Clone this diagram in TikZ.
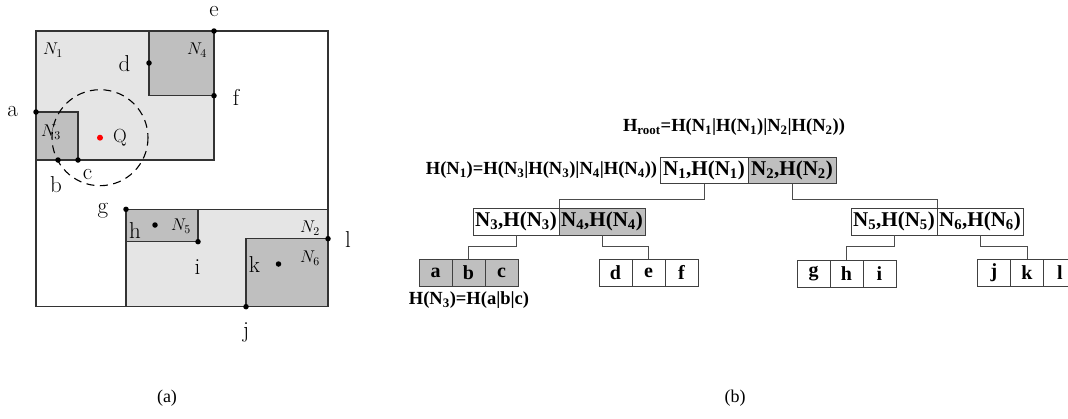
\RequirePackage{fix-cm}
\documentclass[tikz,border=0pt]{standalone}
\usepackage{fontspec}
\newfontfamily\tnr{Liberation Serif}
\begin{document}
\begin{tikzpicture}[x=1pt,y=-1pt,
 region/.style={draw=black!80, line width=1.2pt},
 light/.style={region, fill=black!10},
 dark/.style={region, fill=black!25},
 dot/.style={circle, fill=black, inner sep=0pt, minimum size=5.5pt},
 qdot/.style={circle, fill=red, inner sep=0pt, minimum size=6pt},
 lbl/.style={font=\fontsize{23}{27}\selectfont, inner sep=0pt},
 qlbl/.style={font=\fontsize{19}{22}\selectfont, inner sep=0pt},
 nlbl/.style={font=\fontsize{17}{20}\selectfont, inner sep=0pt},
 box/.style={draw=black!75, line width=0.9pt, minimum height=26pt, inner sep=0pt, font=\tnr\bfseries\fontsize{21}{24}\selectfont},
 cell/.style={draw=black!75, line width=0.9pt, minimum width=33pt, minimum height=27pt, inner sep=0pt, font=\tnr\bfseries\fontsize{20}{24}\selectfont},
 shaded/.style={fill=black!25},
 conn/.style={draw=black!70, line width=0.9pt},
 formula/.style={font=\tnr\bfseries\fontsize{18.5}{22}\selectfont, inner sep=0pt},
 caption/.style={font=\tnr\fontsize{18}{22}\selectfont, inner sep=0pt}]
\useasboundingbox (0,0) rectangle (1068,418);
\clip (0,0) rectangle (1068,418);

% ---------------- (a) spatial layout ----------------
\draw[region] (36,31) rectangle (328,306.7);
\draw[light] (36,31) rectangle (214,160);
\draw[dark] (149,31) rectangle (214,95.7);
\draw[dark] (36,112) rectangle (78,160);
\draw[light] (126,209.3) rectangle (328,306.7);
\draw[dark] (126,209.3) rectangle (198,241.7);
\draw[dark] (246,238.7) rectangle (328,306.7);
\draw[region] (36,31) rectangle (328,306.7);

\draw[line width=1.1pt, dash pattern=on 8pt off 5.5pt] (100,137.7) circle[radius=48];

\node[nlbl] (N1) at (53,50) {$N_1$};
\node[nlbl] (N4) at (197,50) {$N_4$};
\node[nlbl] (N3) at (51,132) {$N_3$};
\node[nlbl] (N5) at (181,226) {$N_5$};
\node[nlbl] (N2) at (310,228) {$N_2$};
\node[nlbl] (N6) at (310,258) {$N_6$};

\node[dot] (pa) at (36,112) {};
\node[dot] (pb) at (58,160) {};
\node[dot] (pc) at (78,160) {};
\node[dot] (pd) at (149,63) {};
\node[dot] (pe) at (214,31) {};
\node[dot] (pf) at (214,95.7) {};
\node[dot] (pg) at (126,209.3) {};
\node[dot] (pi) at (198,241.7) {};
\node[dot] (pl) at (328,238.7) {};
\node[dot] (pj) at (246,306.7) {};
\node[dot] (ph) at (155,225) {};
\node[dot] (pk) at (278.5,264) {};
\node[qdot] (pq) at (100,137.7) {};

\node[lbl] (ta) at (12.7,112) {a};
\node[lbl] (tb) at (56,185) {b};
\node[lbl] (tc) at (87.5,175) {c};
\node[lbl] (td) at (124.5,64) {d};
\node[lbl] (te) at (214,11.5) {e};
\node[lbl] (tf) at (236,97) {f};
\node[lbl] (tg) at (103,210.5) {g};
\node[lbl] (th) at (135,230.5) {h};
\node[lbl] (ti) at (197.5,267.5) {i};
\node[lbl] (tk) at (254.5,265) {k};
\node[lbl] (tl) at (348,239.5) {l};
\node[lbl] (tj) at (246,332) {j};
\node[qlbl] (tq) at (120,138) {Q};

\node[caption] (capa) at (167,398) {(a)};

% ---------------- (b) tree ----------------
\node[formula] (hroot) at (734,127) {H\textsubscript{root}=H(N\textsubscript{1}|H(N\textsubscript{1})|N\textsubscript{2}|H(N\textsubscript{2}))};
\node[formula] (hn1) at (541.5,170) {H(N\textsubscript{1})=H(N\textsubscript{3}|H(N\textsubscript{3})|N\textsubscript{4}|H(N\textsubscript{4}))};
\node[formula] (hn3) at (469,300) {H(N\textsubscript{3})=H(a|b|c)};

\node[box, minimum width=88pt] (r1) at (704,170.5) {N\textsubscript{1},H(N\textsubscript{1})};
\node[box, shaded, minimum width=88pt] (r2) at (792,170.5) {N\textsubscript{2},H(N\textsubscript{2})};

\node[box, minimum width=86pt, minimum height=27pt] (n3) at (516,221.5) {N\textsubscript{3},H(N\textsubscript{3})};
\node[box, shaded, minimum width=86pt, minimum height=27pt] (n4) at (602,221.5) {N\textsubscript{4},H(N\textsubscript{4})};
\node[box, minimum width=86pt, minimum height=27pt] (n5) at (894,221.5) {N\textsubscript{5},H(N\textsubscript{5})};
\node[box, minimum width=86pt, minimum height=27pt] (n6) at (980,221.5) {N\textsubscript{6},H(N\textsubscript{6})};

\node[cell, shaded] (la) at (435.5,272.5) {a};
\node[cell, shaded] (lb) at (468.5,272.5) {b};
\node[cell, shaded] (lc) at (501.5,272.5) {c};
\node[cell] (ld) at (615.5,272.5) {d};
\node[cell] (le) at (648.5,272.5) {e};
\node[cell] (lf) at (681.5,272.5) {f};
\node[cell] (lg) at (813.5,273.5) {g};
\node[cell] (lh) at (846.5,273.5) {h};
\node[cell] (li) at (879.5,273.5) {i};
\node[cell] (lj) at (994,273) {j};
\node[cell] (lk) at (1027,273) {k};
\node[cell] (ll) at (1060,273) {l};

\draw[conn] (r1.south) -- ++(0,15) -| (n3.north east);
\draw[conn] (r2.south) -- ++(0,15) -| (n5.north east);
\draw[conn] (n3.south) -- ++(0,11) -| (lb.north);
\draw[conn] (n4.south) -- ++(0,11) -| (le.north);
\draw[conn] (n5.south) -- ++(0,11) -| (lh.north);
\draw[conn] (n6.south) -- ++(0,11) -| (lk.north);

\node[caption] (capb) at (735,398) {(b)};
\end{tikzpicture}
\end{document}
